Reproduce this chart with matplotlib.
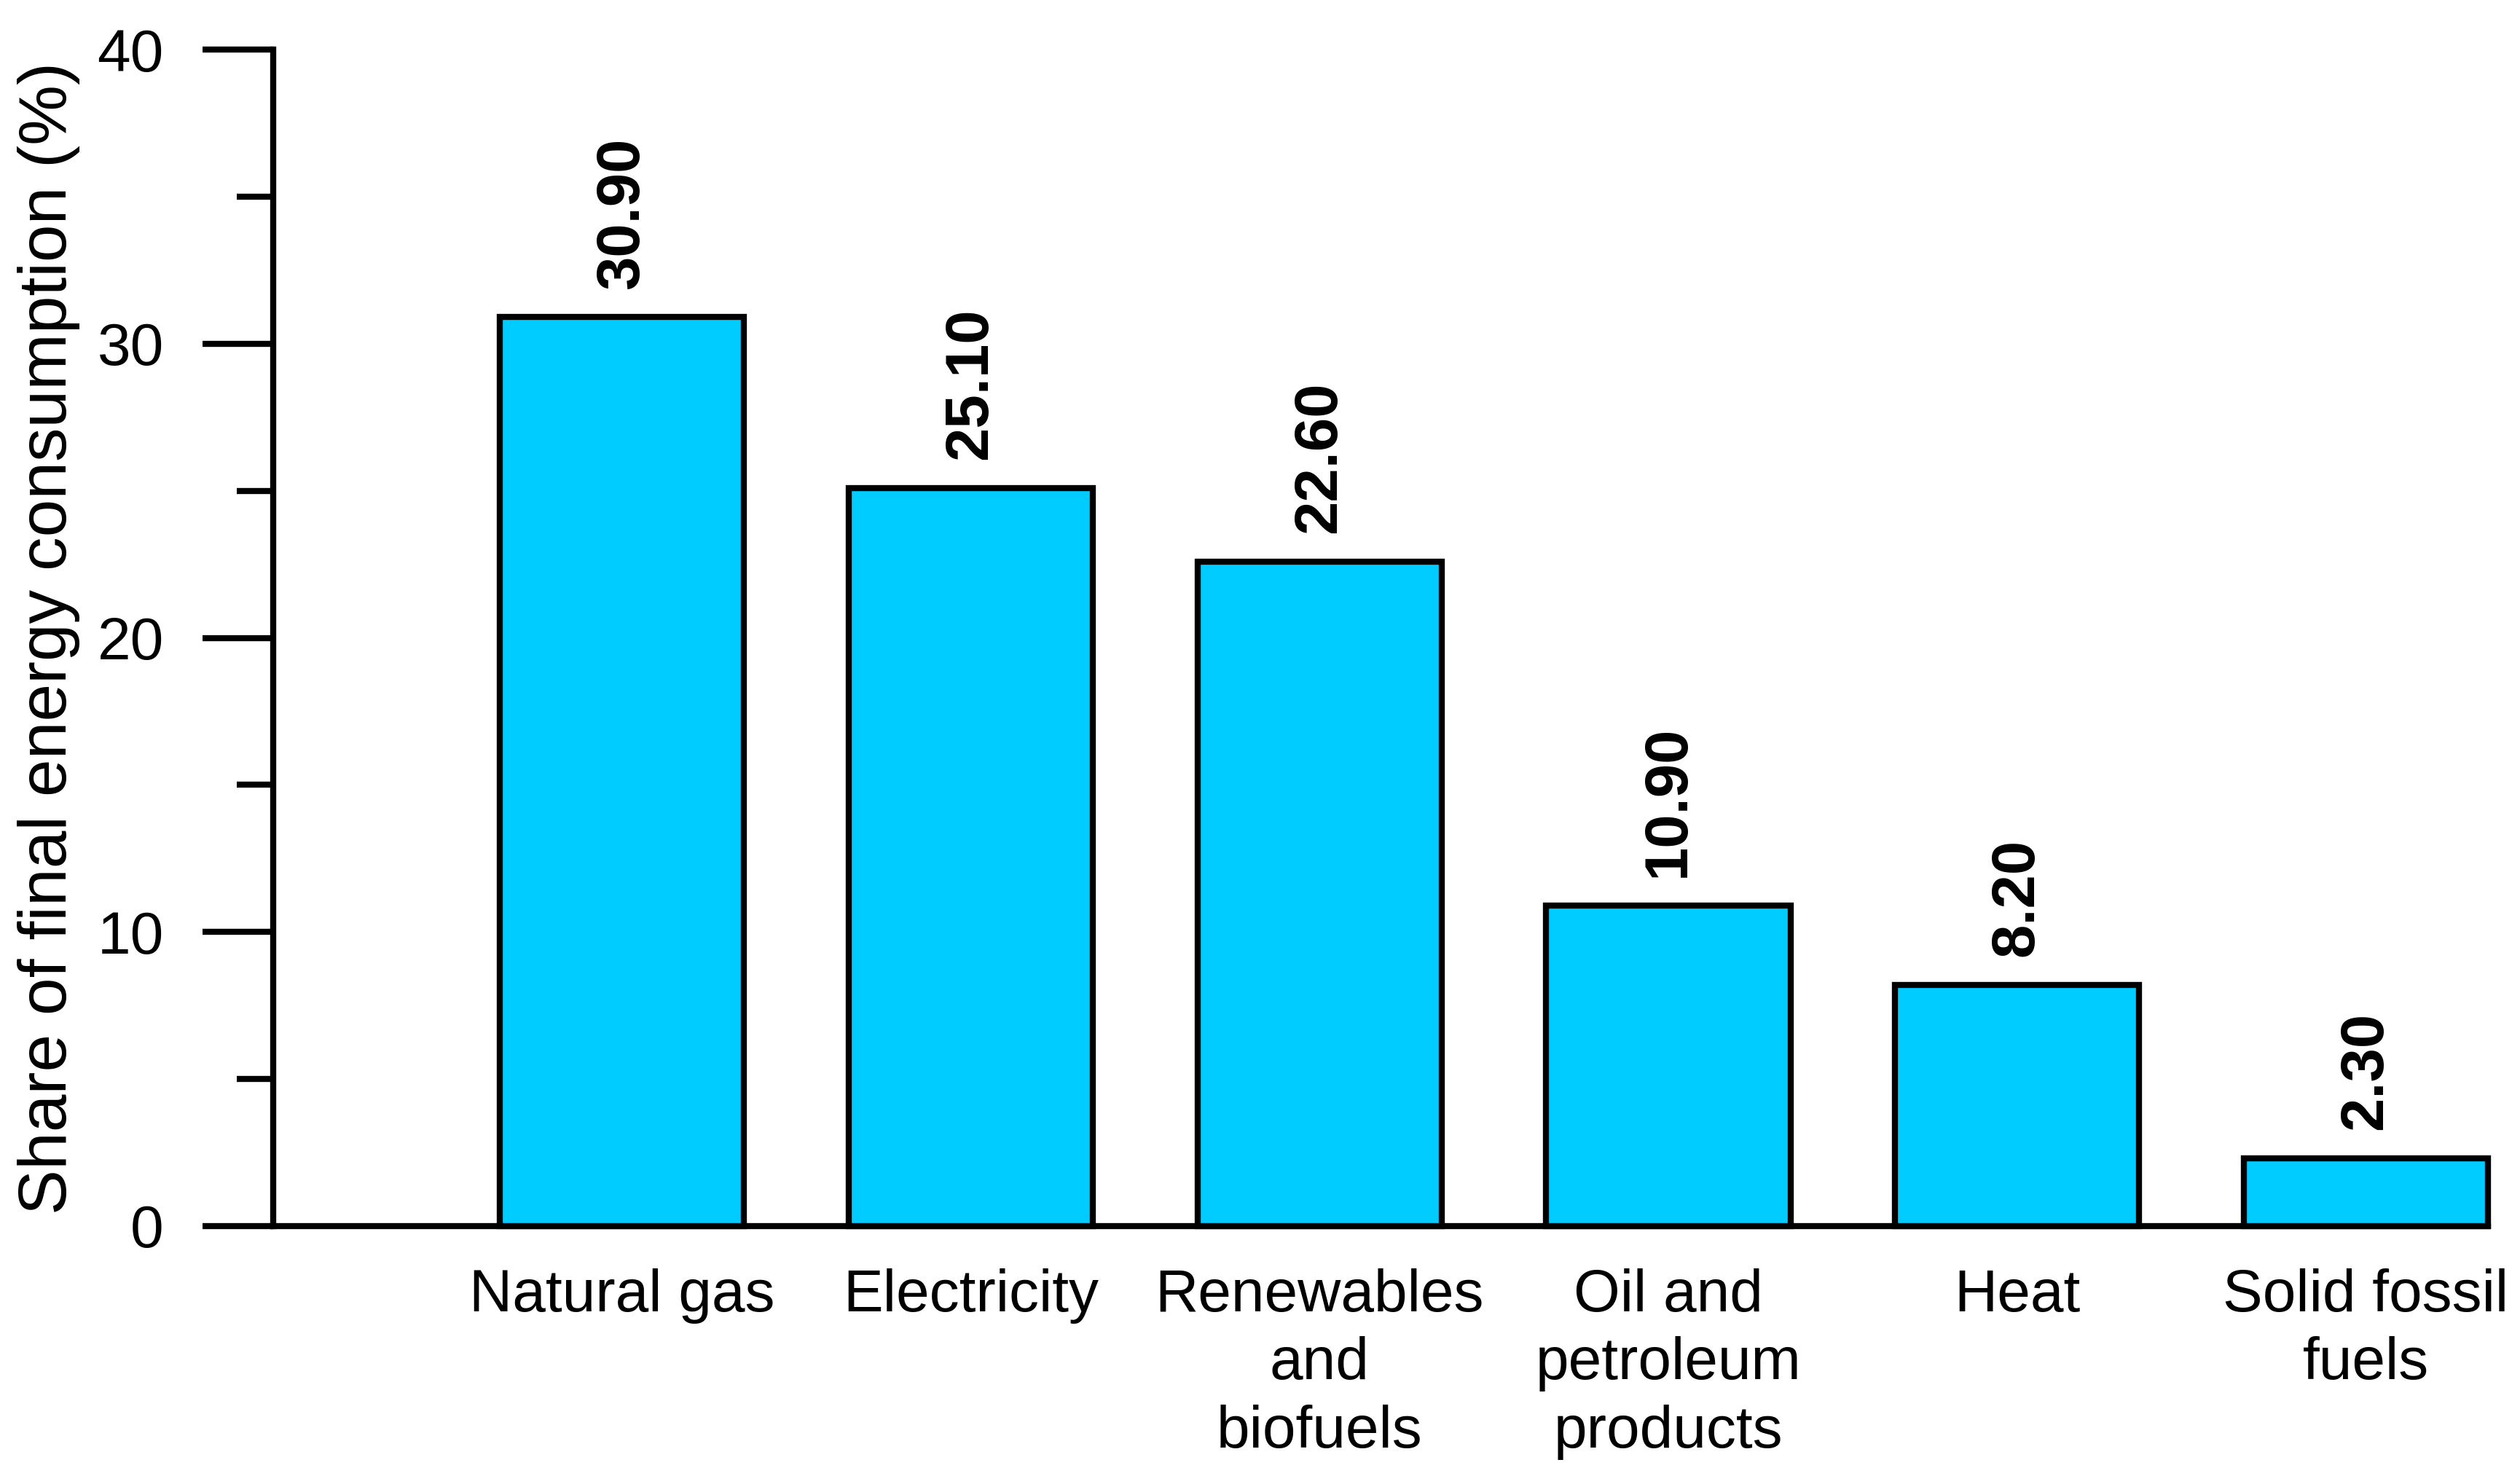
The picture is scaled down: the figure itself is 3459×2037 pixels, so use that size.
import numpy as np
import matplotlib
matplotlib.use('Agg')
import matplotlib.pyplot as plt
from matplotlib.ticker import MultipleLocator

plt.rcParams['font.family'] = ['Liberation Sans', 'DejaVu Sans']

categories = ['Natural gas', 'Electricity', 'Renewables\nand\nbiofuels',
              'Oil and\npetroleum\nproducts', 'Heat', 'Solid fossil\nfuels']
shares = [30.90, 25.10, 22.60, 10.90, 8.20, 2.30]

fig = plt.figure(figsize=(34.59, 20.37), dpi=100)
ax = fig.add_axes([0.1084, 0.1738, 0.9873 - 0.1084, 0.9666 - 0.1738])

x = np.arange(1, len(shares) + 1)
bars = ax.bar(x, shares, width=0.7, color='#00CCFF', edgecolor='black',
              linewidth=6, clip_on=False, zorder=3)

for xi, v in zip(x, shares):
    ax.annotate('%.2f' % v, (xi, v), xytext=(0, 28),
                textcoords='offset points', rotation=90,
                ha='center', va='bottom', fontsize=60, fontweight='bold')

ax.set_xlim(0, x[-1] + 0.35)
ax.set_ylim(0, 40)
ax.yaxis.set_major_locator(MultipleLocator(10))
ax.yaxis.set_minor_locator(MultipleLocator(5))
ax.set_xticks(x)
ax.set_xticklabels(categories, fontsize=59, linespacing=1.29)

ax.spines['top'].set_visible(False)
ax.spines['right'].set_visible(False)
ax.spines['left'].set_linewidth(6)
ax.spines['bottom'].set_linewidth(6)

ax.tick_params(axis='y', which='major', length=70, width=6, pad=38,
               labelsize=59)
ax.tick_params(axis='y', which='minor', length=36, width=6)
ax.tick_params(axis='x', length=0, pad=42)

ax.set_ylabel('Share of final energy consumption (%)', fontsize=67)
ax.yaxis.set_label_coords(-0.087, 0.5)

fig.savefig('out.png', dpi=100)
